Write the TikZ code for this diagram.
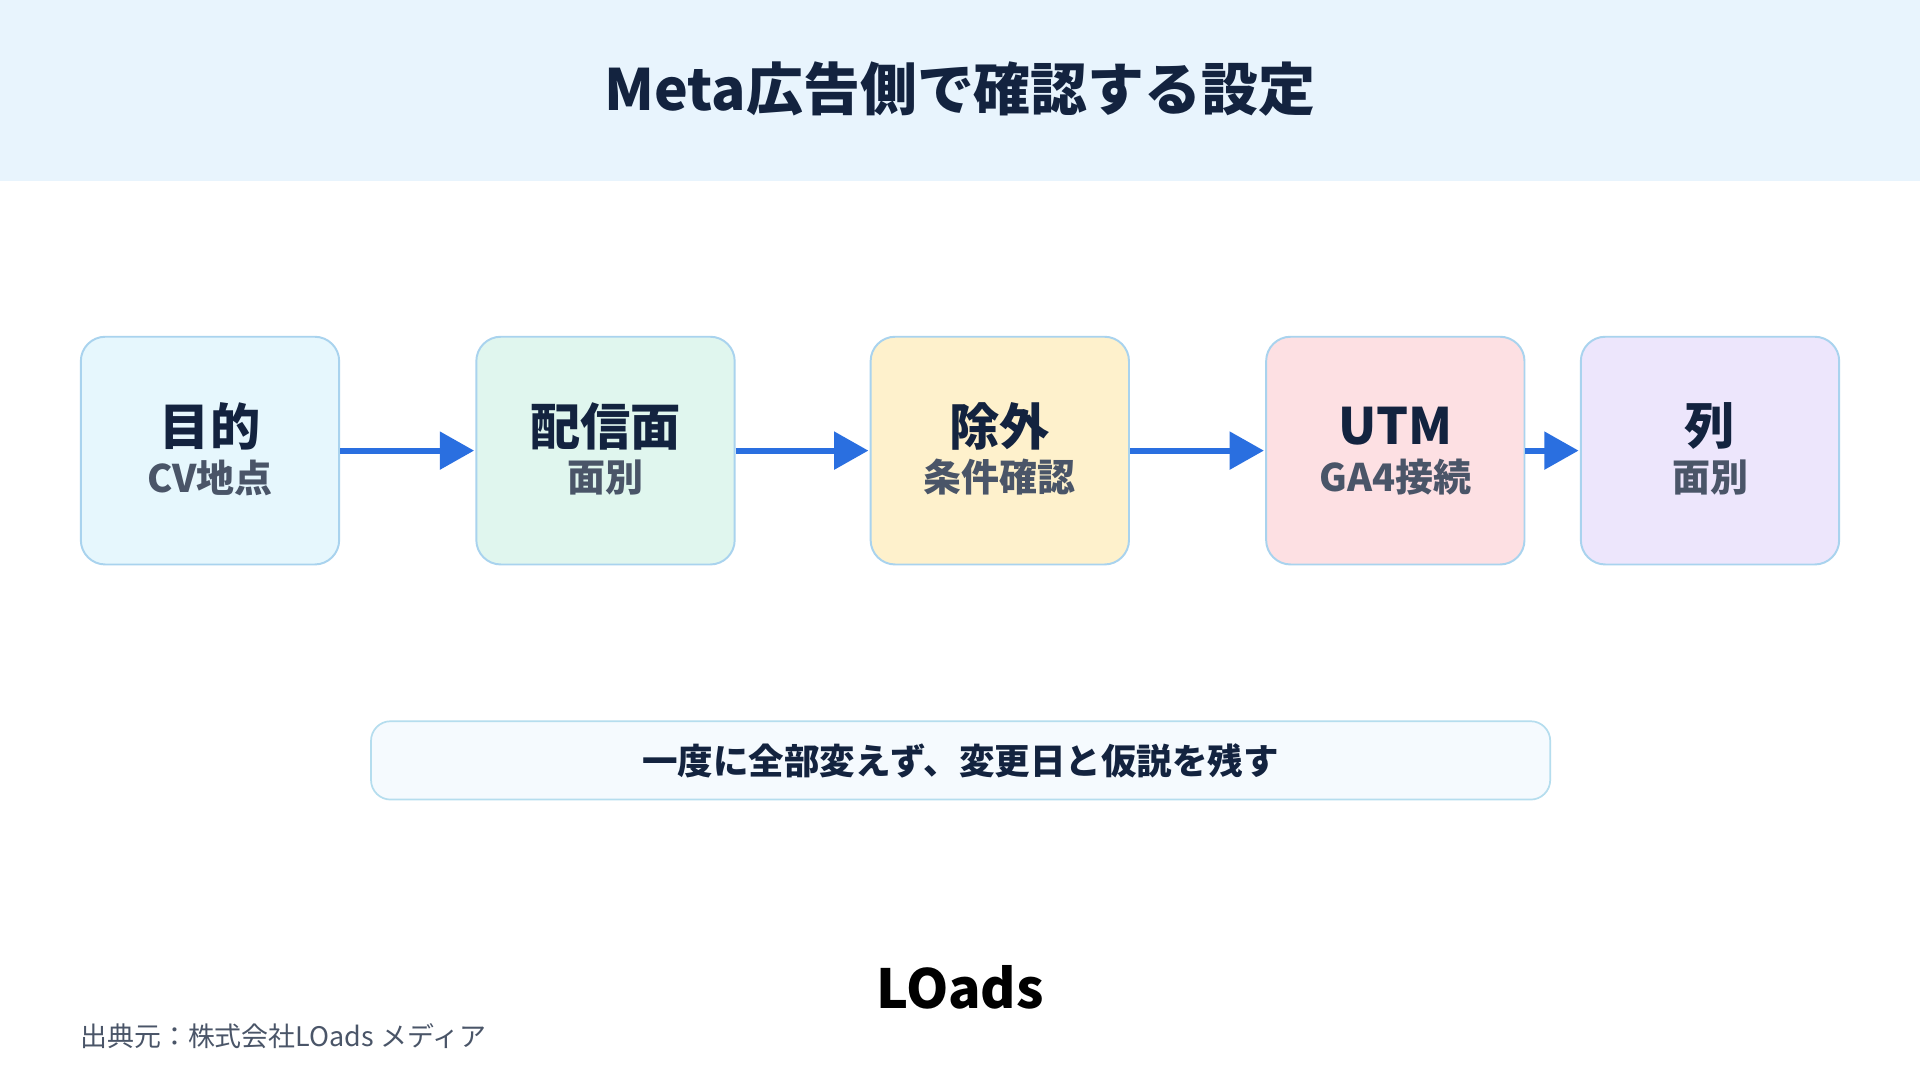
\documentclass[tikz,border=0pt]{standalone}
\usepackage{fontspec}
\setmainfont{Noto Sans CJK JP}
\usetikzlibrary{arrows.meta}
\definecolor{navy}{HTML}{13233F}
\definecolor{sub}{HTML}{4A5568}
\definecolor{arr}{HTML}{2A6FE0}
\definecolor{bord}{HTML}{A9D3EE}
\definecolor{hdr}{HTML}{E8F4FD}
\definecolor{c1}{HTML}{E6F7FD}\definecolor{c2}{HTML}{E0F6EE}\definecolor{c3}{HTML}{FEF1CC}\definecolor{c4}{HTML}{FDE0E3}\definecolor{c5}{HTML}{EDE6FC}
\definecolor{nf}{HTML}{F5FAFE}\definecolor{nb}{HTML}{B5DDEE}
\tikzset{
 box/.style={draw=bord,line width=1.6pt,rounded corners=20pt,minimum width=211pt,minimum height=186pt,inner sep=0pt},
 ttl/.style={font=\fontsize{41}{44}\selectfont\bfseries,text=navy},
 sbt/.style={font=\fontsize{31}{34}\selectfont\bfseries,text=sub},
 ar/.style={draw=arr,line width=5pt,-{Triangle[length=28pt,width=30pt]},shorten >=1pt}
}
\begin{document}
\begin{tikzpicture}[x=1pt,y=-1pt]
\useasboundingbox (0,0) rectangle (1568,882);
\fill[white] (0,0) rectangle (1568,882);
\fill[hdr] (0,0) rectangle (1568,148);
\node[font=\fontsize{46.5}{50}\selectfont\bfseries,text=navy] (title) at (784,73) {Meta広告側で確認する設定};
\node[box,fill=c1] (b1) at (171.5,368) {};
\node[box,fill=c2] (b2) at (494.5,368) {};
\node[box,fill=c3] (b3) at (816.5,368) {};
\node[box,fill=c4] (b4) at (1139.5,368) {};
\node[box,fill=c5] (b5) at (1396.5,368) {};
\node[ttl] (t1) at (171.5,348) {目的}; \node[sbt] (s1) at (171.5,390) {CV地点};
\node[ttl] (t2) at (494.5,348) {配信面}; \node[sbt] (s2) at (494.5,390) {面別};
\node[ttl] (t3) at (816.5,348) {除外}; \node[sbt] (s3) at (816.5,390) {条件確認};
\node[ttl] (t4) at (1139.5,348) {UTM}; \node[sbt] (s4) at (1139.5,390) {GA4接続};
\node[ttl] (t5) at (1396.5,348) {列}; \node[sbt] (s5) at (1396.5,390) {面別};
\draw[ar] (b1.east) -- (b2.west);
\draw[ar] (b2.east) -- (b3.west);
\draw[ar] (b3.east) -- (b4.west);
\draw[ar] (b4.east) -- (b5.west);
\node[draw=nb,fill=nf,line width=1.4pt,rounded corners=16pt,minimum width=963pt,minimum height=64pt,font=\fontsize{29}{32}\selectfont\bfseries,text=navy] (note) at (784.5,621) {一度に全部変えず、変更日と仮説を残す};
\node[font=\fontsize{44}{48}\selectfont\bfseries,text=black] (logo) at (784,806) {LOads};
\node[anchor=west,font=\fontsize{22}{24}\selectfont,text=sub] (src) at (62,846) {出典元：株式会社LOads メディア};
\end{tikzpicture}
\end{document}
